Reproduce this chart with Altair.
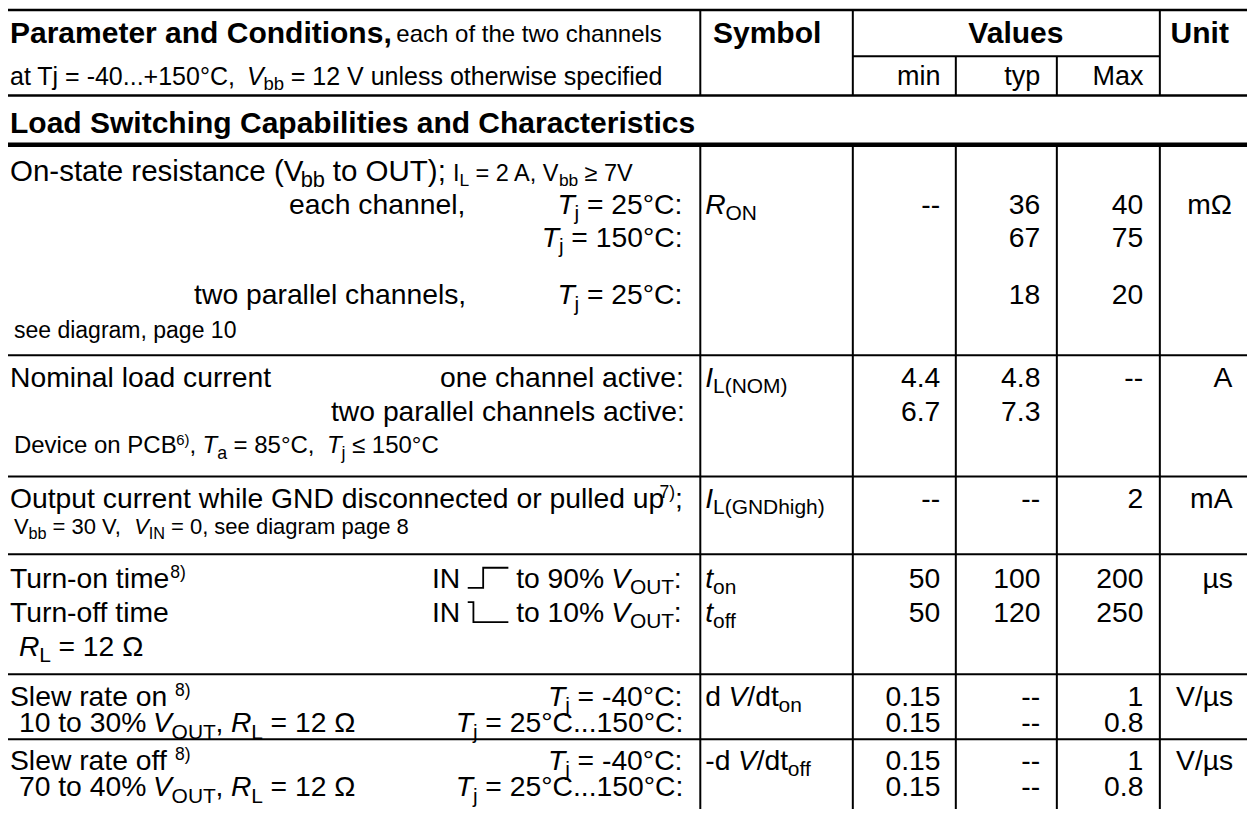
import altair as alt
import pandas as pd

# ---------------- content (text of the table) ----------------
head_param = "Parameter and Conditions,"
head_param_note = "each of the two channels"
head_conditions = "at Tj = -40...+150°C,  *V*_{bb} = 12 V unless otherwise specified"
head_symbol = "Symbol"
head_values = "Values"
head_unit = "Unit"
value_heads = ["min", "typ", "Max"]
section_title = "Load Switching Capabilities and Characteristics"

param_main = [
    "On-state resistance (V_{bb} to OUT);",
    "each channel,",
    "",
    "two parallel channels,",
    "see diagram, page 10",
    "Nominal load current",
    "",
    "Device on PCB^{6)}, *T*_{a} = 85°C,  *T*_{j} ≤ 150°C",
    "Output current while GND disconnected or pulled up^{7)};",
    "V_{bb} = 30 V,  *V*_{IN} = 0, see diagram page 8",
    "Turn-on time^{8)}",
    "Turn-off time",
    "*R*_{L} = 12 Ω",
    "Slew rate on ^{8)}",
    "10 to 30% *V*_{OUT}, *R*_{L} = 12 Ω",
    "Slew rate off ^{8)}",
    "70 to 40% *V*_{OUT}, *R*_{L} = 12 Ω",
]
param_note_first = "I_{L} = 2 A, V_{bb} ≥ 7V"
param_cond = [
    "", "*T*_{j} = 25°C:", "*T*_{j} = 150°C:", "*T*_{j} = 25°C:", "",
    "one channel active:", "two parallel channels active:", "", "", "",
    "IN [UP] to 90% *V*_{OUT}:", "IN [DN] to 10% *V*_{OUT}:", "",
    "*T*_{j} = -40°C:", "*T*_{j} = 25°C...150°C:",
    "*T*_{j} = -40°C:", "*T*_{j} = 25°C...150°C:",
]
symbols = ["", "*R*_{ON}", "", "", "", "*I*_{L(NOM)}", "", "", "*I*_{L(GNDhigh)}", "",
           "*t*_{on}", "*t*_{off}", "", "d *V*/dt_{on}", "", "-d *V*/dt_{off}", ""]
min_vals = ["", "--", "", "", "", "4.4", "6.7", "", "--", "", "50", "50", "", "0.15", "0.15", "0.15", "0.15"]
typ_vals = ["", "36", "67", "18", "", "4.8", "7.3", "", "--", "", "100", "120", "", "--", "--", "--", "--"]
max_vals = ["", "40", "75", "20", "", "--", "", "", "2", "", "200", "250", "", "1", "0.8", "1", "0.8"]
units = ["", "mΩ", "", "", "", "A", "", "", "mA", "", "µs", "", "", "V/µs", "", "V/µs", ""]

# ---------------- layout ----------------
W_REF, H_REF = 1255, 817
FONT = "Liberation Sans"
F_MAIN, F_BOLD, F_SMALL, F_NOTE, F_HEAD2, F_COND = 28.3, 30, 24, 23.5, 27, 25
F_FIRST = 29.5
small_size = {4: 23, 7: 24, 9: 22}

# kind of the left text of every body line: L = left, R = right aligned mid, S = small indented, I = indented
param_kind = ["L", "R", "", "R", "S", "L", "", "S", "L", "S", "L", "L", "I", "L", "I", "L", "I"]
line_y = [168, 202, 236, 294, 330, 378, 413, 447, 501, 530, 582, 617, 651, 702, 729, 767, 794]
X_LEFT, X_SMALL, X_IND, X_MID, X_COND = 6, 10, 15, 464, 684
X_SYM = 708
X_VAL = [945, 1046, 1150]
X_UNIT = 1240
col_x = [703, 857, 961, 1063, 1167]
Y_TOP, Y_SUB, Y_HEAD, Y_SEC = 5, 52, 92, 142
Y_H1, Y_H2, Y_SECT = 28, 72, 119
row_lines = [356, 479, 558, 680, 746]

# Arial / Liberation Sans advance widths (1/1000 em)
REG = {' ': 278, '!': 278, '%': 889, '(': 333, ')': 333, '+': 584, ',': 278, '-': 333, '.': 278,
       '/': 278, ':': 278, ';': 278, '=': 584, '°': 400, '≤': 549, '≥': 549, 'Ω': 768, 'µ': 556}
for c in "0123456789":
    REG[c] = 556
REG.update(dict(zip("ABCDEFGHIJKLMNOPQRSTUVWXYZ",
                    [667, 667, 722, 722, 667, 611, 778, 722, 278, 500, 667, 556, 833, 722, 778, 667, 778, 722, 667,
                     611, 722, 667, 944, 667, 667, 611])))
REG.update(dict(zip("abcdefghijklmnopqrstuvwxyz",
                    [556, 556, 500, 556, 556, 278, 556, 556, 222, 222, 500, 222, 833, 556, 556, 556, 556, 333, 500,
                     278, 556, 500, 722, 500, 500, 500])))
BOLD = dict(REG)
BOLD.update(dict(zip("ABCDEFGHIJKLMNOPQRSTUVWXYZ",
                     [722, 722, 722, 722, 667, 611, 778, 722, 278, 556, 722, 611, 833, 722, 778, 667, 778, 722, 667,
                      611, 722, 667, 944, 667, 667, 611])))
BOLD.update(dict(zip("abcdefghijklmnopqrstuvwxyz",
                     [556, 611, 556, 611, 556, 333, 611, 611, 278, 278, 556, 278, 889, 611, 611, 611, 611, 389, 556,
                      333, 611, 556, 778, 556, 556, 500])))


def tw(s, size, bold=False):
    t = BOLD if bold else REG
    return sum(t.get(c, 556) for c in s) * size / 1000.0


def parse(s):
    runs, buf, ital, i = [], "", False, 0
    while i < len(s):
        if s.startswith("[UP]", i) or s.startswith("[DN]", i):
            if buf:
                runs.append((buf, ital, "n"))
                buf = ""
            runs.append(("", False, "up" if s[i + 1] == "U" else "dn"))
            i += 4
        elif s[i] == "*":
            if buf:
                runs.append((buf, ital, "n"))
                buf = ""
            ital = not ital
            i += 1
        elif s[i] in "_^" and s[i + 1:i + 2] == "{":
            if buf:
                runs.append((buf, ital, "n"))
                buf = ""
            j = s.index("}", i)
            runs.append((s[i + 2:j], False, "sub" if s[i] == "_" else "sup"))
            i = j + 1
        else:
            buf += s[i]
            i += 1
    if buf:
        runs.append((buf, ital, "n"))
    return runs


TEXT, GLYPH = [], []


def place(markup, x, yc, size, align="left", bold=False):
    if not markup:
        return 0
    base = yc + 0.36 * size
    pieces, cur = [], 0.0
    for text, ital, kind in parse(markup):
        if kind in ("up", "dn"):
            w = size * 1.45
            pieces.append(("g", cur, kind, w))
            cur += w
            continue
        if kind == "sub":
            fs, dy = size * 0.74, size * 0.22
        elif kind == "sup":
            fs, dy = size * 0.62, -size * 0.36
            cur += size * 0.05
        else:
            fs, dy = size, 0.0
        lead = len(text) - len(text.lstrip(" "))
        pieces.append(("t", cur + tw(" " * lead, fs, bold), text.strip(" "), fs, dy, ital))
        cur += tw(text, fs, bold)
    start = x if align == "left" else (x - cur if align == "right" else x - cur / 2)
    for p in pieces:
        if p[0] == "g":
            _, px, kind, w = p
            gx = start + px
            top = base - 0.72 * size
            gid = len(GLYPH)
            if kind == "up":
                pts = [(gx, base), (gx + 0.38 * w, base), (gx + 0.38 * w, top), (gx + w, top)]
            else:
                pts = [(gx, top), (gx + 0.14 * w, top), (gx + 0.14 * w, base), (gx + w, base)]
            for k, (a, b) in enumerate(pts):
                GLYPH.append(dict(x=a, y=b, g=gid, o=k))
        else:
            _, px, text, fs, dy, ital = p
            if text:
                style = "bold" if bold else ("italic" if ital else "normal")
                TEXT.append(dict(x=start + px, y=base + dy, text=text, fs=fs, style=style))
    return start + cur


# header
end = place(head_param, X_LEFT, Y_H1, F_BOLD, bold=True)
place(head_param_note, end + tw(" ", F_BOLD, True), Y_H1 + 1, F_SMALL)
place(head_conditions, X_LEFT, Y_H2, F_COND)
place(head_symbol, 770, Y_H1, F_BOLD, "center", True)
place(head_values, 1022, Y_H1, F_BOLD, "center", True)
place(head_unit, 1207, Y_H1, F_BOLD, "center", True)
for xv, h in zip(X_VAL, value_heads):
    place(h, xv, Y_H2, F_HEAD2, "right")
place(section_title, X_LEFT, Y_SECT, F_BOLD, bold=True)

# body
for i, y in enumerate(line_y):
    k, s = param_kind[i], param_main[i]
    if k == "L":
        if i == 0:
            e = place(s, X_LEFT, y, F_FIRST)
            place(param_note_first, e + tw(" ", F_FIRST), y + 2, F_NOTE)
        else:
            place(s, X_LEFT, y, F_MAIN)
    elif k == "R":
        place(s, X_MID, y, F_MAIN, "right")
    elif k == "S":
        place(s, X_SMALL, y, small_size.get(i, F_SMALL))
    elif k == "I":
        place(s, X_IND, y, F_MAIN)
    place(param_cond[i], X_COND, y, F_MAIN, "right")
    place(symbols[i], X_SYM, y, F_MAIN)
    for xv, v in zip(X_VAL, (min_vals[i], typ_vals[i], max_vals[i])):
        place(v, xv, y, F_MAIN, "right")
    place(units[i], X_UNIT, y, F_MAIN, "right")

# rules
hl = [dict(x=0, x2=W_REF, y=Y_TOP, w=2.5), dict(x=col_x[1], x2=col_x[4], y=Y_SUB, w=2),
      dict(x=0, x2=W_REF, y=Y_HEAD, w=2.5), dict(x=0, x2=W_REF, y=Y_SEC, w=4.5)]
hl += [dict(x=0, x2=W_REF, y=yy, w=2) for yy in row_lines]
vl = []
for j, cx in enumerate(col_x):
    vl.append(dict(x=cx, y=Y_SUB if j in (2, 3) else Y_TOP, y2=Y_HEAD, w=2))
    vl.append(dict(x=cx, y=Y_SEC, y2=H_REF, w=2))

xs = alt.Scale(domain=[4, W_REF], nice=False, zero=False)
ys = alt.Scale(domain=[3, H_REF], nice=False, zero=False, reverse=True)

hrules = alt.Chart(pd.DataFrame(hl)).mark_rule(color="black").encode(
    x=alt.X("x:Q", scale=xs, axis=None), x2="x2:Q",
    y=alt.Y("y:Q", scale=ys, axis=None), size=alt.Size("w:Q", scale=None, legend=None))
vrules = alt.Chart(pd.DataFrame(vl)).mark_rule(color="black").encode(
    x=alt.X("x:Q", scale=xs, axis=None),
    y=alt.Y("y:Q", scale=ys, axis=None), y2="y2:Q", size=alt.Size("w:Q", scale=None, legend=None))
glyph = alt.Chart(pd.DataFrame(GLYPH)).mark_line(color="black", strokeWidth=1.8).encode(
    x=alt.X("x:Q", scale=xs, axis=None), y=alt.Y("y:Q", scale=ys, axis=None),
    detail="g:N", order="o:Q")

tdf = pd.DataFrame(TEXT)
layers = [hrules, vrules, glyph]
for style in ("normal", "italic", "bold"):
    sub = tdf[tdf["style"] == style]
    layers.append(
        alt.Chart(sub).mark_text(
            align="left", baseline="alphabetic", font=FONT, color="black",
            fontStyle="italic" if style == "italic" else "normal",
            fontWeight="bold" if style == "bold" else "normal",
        ).encode(
            x=alt.X("x:Q", scale=xs, axis=None), y=alt.Y("y:Q", scale=ys, axis=None),
            text="text:N", size=alt.Size("fs:Q", scale=None, legend=None))
    )

chart = alt.layer(*layers).properties(
    width=1239, height=801, padding=0, autosize=alt.AutoSizeParams(type="none"),
    background="white").configure_view(stroke=None)

chart.save("out.html", embed_options={"renderer": "svg", "actions": False})
